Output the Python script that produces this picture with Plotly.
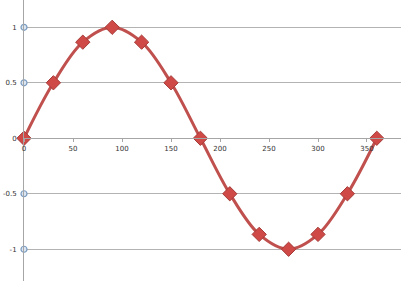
import plotly.graph_objects as go

angles = [0, 30, 60, 90, 120, 150, 180, 210, 240, 270, 300, 330, 360]
sine_values = [0, 0.5, 0.866, 1, 0.866, 0.5, 0, -0.5, -0.866, -1, -0.866, -0.5, 0]
y_ticks = [1, 0.5, 0, -0.5, -1]
y_tick_labels = ["1", "0.5", "0", "-0.5", "-1"]
x_ticks = [0, 50, 100, 150, 200, 250, 300, 350]
x_tick_labels = ["0", "50", "100", "150", "200", "250", "300", "350"]

y_min, y_max = -1.286, 1.246
x_min, x_max = 0, 384.7
axis_pos = (0 - y_min) / (y_max - y_min)

fig = go.Figure()
# Tick circles on y axis
fig.add_trace(go.Scatter(
    x=[0] * len(y_ticks), y=y_ticks, mode="markers",
    marker=dict(symbol="circle", size=6, color="#dce6f2",
                line=dict(color="#7a9cc0", width=1.2)),
    cliponaxis=False, hoverinfo="skip", showlegend=False))
# Sine line
fig.add_trace(go.Scatter(
    x=angles, y=sine_values, mode="lines+markers",
    line=dict(color="#c0504d", width=3, shape="spline", smoothing=1.0),
    marker=dict(symbol="diamond", size=11, color="#cf4a47",
                line=dict(color="#a53b38", width=1)),
    cliponaxis=False, showlegend=False))

fig.update_layout(
    width=401, height=281,
    margin=dict(l=24, r=0, t=0, b=0),
    paper_bgcolor="white", plot_bgcolor="white",
    font=dict(family="DejaVu Sans", size=7, color="#333333"),
    xaxis=dict(range=[x_min, x_max], tickvals=x_ticks, ticktext=x_tick_labels,
               showgrid=False, zeroline=False, showline=True,
               linecolor="#a6a6a6", linewidth=1,
               ticks="outside", ticklen=3, tickcolor="#a6a6a6",
               anchor="free", position=axis_pos,
               tickfont=dict(size=7, color="#333333")),
    yaxis=dict(range=[y_min, y_max], tickvals=y_ticks, ticktext=y_tick_labels,
               showgrid=True, gridcolor="#b3b3b3", gridwidth=1,
               zeroline=False, showline=True, linecolor="#a6a6a6", linewidth=1,
               ticks="", ticklabelstandoff=5,
               tickfont=dict(size=7, color="#333333")),
)

fig.write_html("out.html")
